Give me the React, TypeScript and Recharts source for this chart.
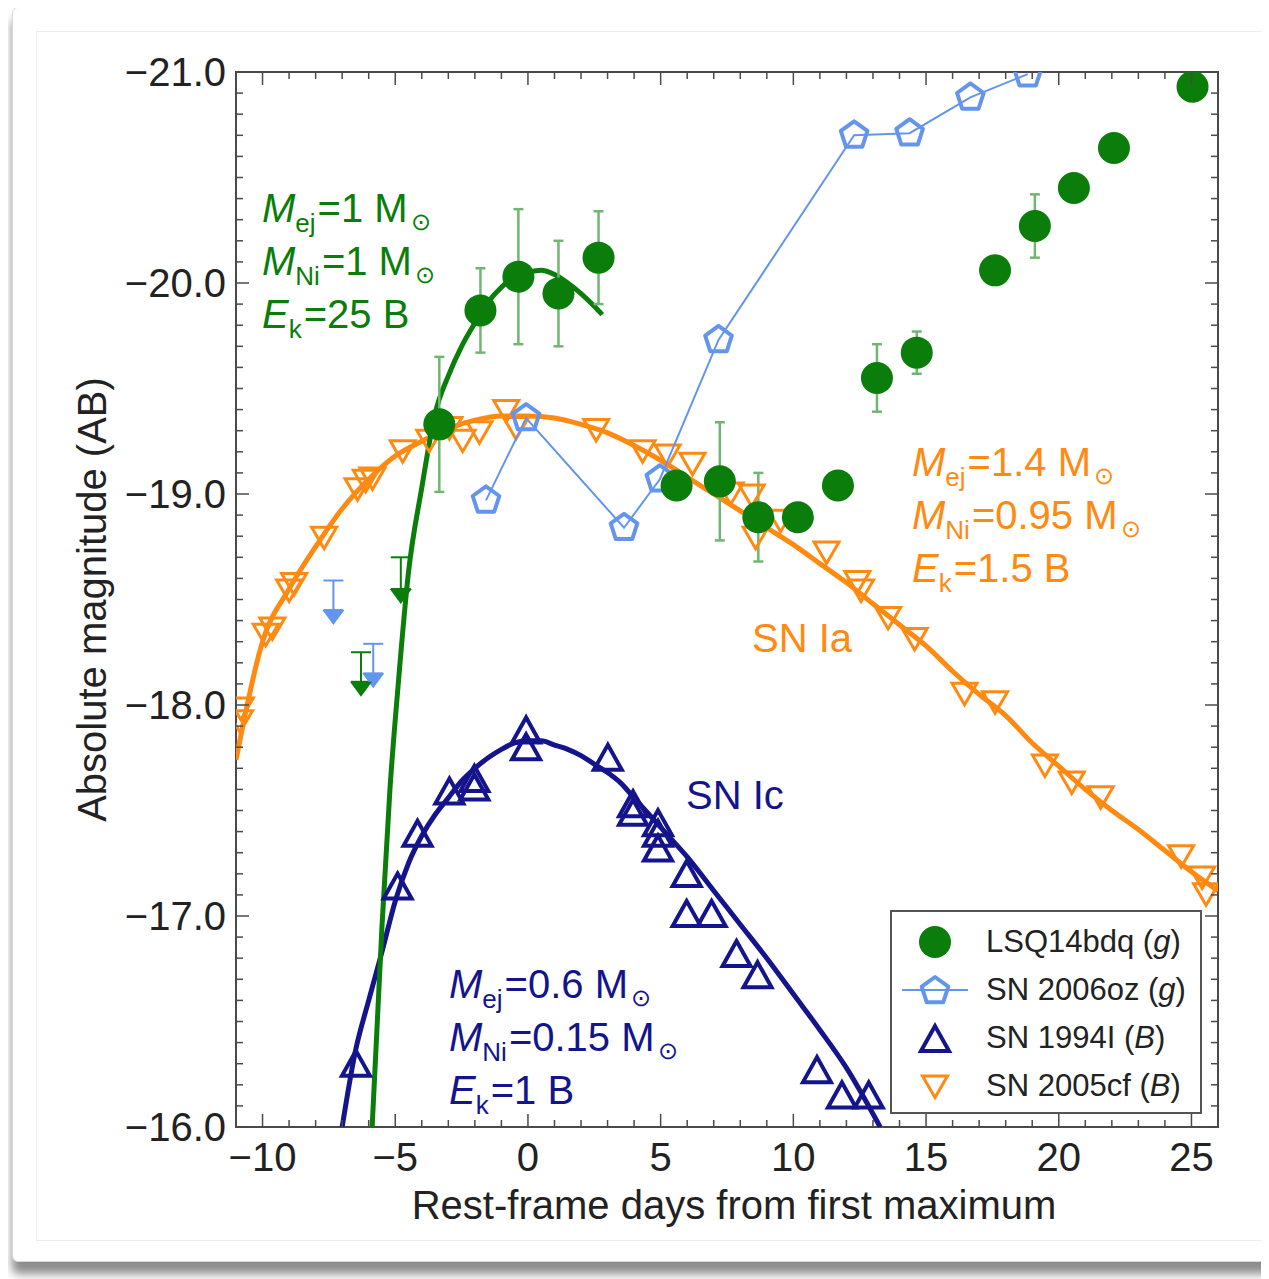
import React from 'react';
import { ComposedChart, Line, Scatter, XAxis, YAxis, ErrorBar, ReferenceArea } from 'recharts';

// LSQ14bdq (g): day, magnitude, 1-sigma error
const lsqDays = [-3.34, -1.79, -0.36, 1.15, 2.66, 5.6, 7.23, 8.68, 10.17, 11.68, 13.15, 14.65, 17.6, 19.1, 20.57, 22.08, 25.04];
const lsqMags = [-19.33, -19.87, -20.03, -19.95, -20.12, -19.04, -19.06, -18.89, -18.89, -19.04, -19.55, -19.67, -20.06, -20.27, -20.45, -20.64, -20.93];
const lsqErrs = [0.32, 0.2, 0.32, 0.25, 0.22, 0, 0.28, 0.21, 0, 0, 0.16, 0.1, 0, 0.15, 0, 0, 0];

// upper limits: day, magnitude, extent of the bar above it
const lsqLimDays = [-6.29, -4.79];
const lsqLimMags = [-18.11, -18.55];
const lsqLimBars = [0.14, 0.15];
const ozLimDays = [-7.33, -5.83];
const ozLimMags = [-18.45, -18.15];
const ozLimBars = [0.14, 0.14];

// SN 2006oz (g)
const ozDays = [-1.58, -0.07, 3.62, 4.97, 7.18, 12.29, 14.38, 16.67, 18.83];
const ozMags = [-18.97, -19.36, -18.84, -19.07, -19.73, -20.7, -20.71, -20.88, -20.99];

// SN 1994I (B)
const icDays = [-6.48, -4.91, -4.16, -2.96, -2.02, -2.02, -0.07, -0.07, 3.01, 3.96, 3.96, 4.9, 4.9, 4.9, 5.98, 5.98, 6.92, 7.86, 8.65, 10.89, 11.83, 12.84];
const icMags = [-16.29, -17.13, -17.38, -17.58, -17.64, -17.6, -17.87, -17.79, -17.74, -17.52, -17.48, -17.43, -17.38, -17.31, -17.19, -17.0, -17.0, -16.81, -16.71, -16.26, -16.14, -16.14];

// SN 2005cf (B)
const iaDays = [-10.82, -10.85, -9.88, -9.63, -9.0, -8.81, -7.68, -6.42, -6.11, -5.86, -4.72, -3.72, -2.96, -2.46, -1.83, -0.82, -0.45, 2.57, 4.32, 5.26, 6.2, 7.64, 8.43, 8.58, 9.52, 11.25, 12.41, 12.55, 13.57, 14.57, 16.45, 17.6, 19.48, 20.49, 21.58, 24.61, 25.4, 25.55];
const iaMags = [-17.99, -17.93, -18.34, -18.37, -18.55, -18.58, -18.8, -19.03, -19.07, -19.08, -19.21, -19.26, -19.32, -19.26, -19.3, -19.4, -19.32, -19.31, -19.21, -19.19, -19.15, -19.01, -19.0, -18.8, -18.88, -18.73, -18.59, -18.55, -18.42, -18.32, -18.06, -18.02, -17.72, -17.64, -17.57, -17.29, -17.19, -17.11];

// model light curves
const fitLsqDays = [-5.87, -5.5, -5.2, -4.9, -4.5, -4.0, -3.5, -3.0, -2.5, -2.0, -1.5, -1.0, -0.5, 0, 0.5, 1.0, 1.5, 2.0, 2.5, 2.8];
const fitLsqMags = [-16.0, -16.95, -17.6, -18.08, -18.63, -19.03, -19.38, -19.56, -19.7, -19.81, -19.91, -19.98, -20.03, -20.05, -20.06, -20.04, -20.0, -19.95, -19.89, -19.85];
const fitIcDays = [-7.0, -6.5, -6.0, -5.5, -5.0, -4.5, -4.0, -3.5, -3.0, -2.5, -2.0, -1.5, -1.0, -0.5, 0, 0.5, 1.0, 1.5, 2.0, 2.5, 3.0, 3.5, 4.0, 5.0, 6.0, 7.0, 8.0, 9.0, 10.0, 11.0, 12.0, 13.27];
const fitIcMags = [-16.0, -16.36, -16.6, -16.83, -17.07, -17.25, -17.38, -17.48, -17.56, -17.64, -17.7, -17.75, -17.79, -17.82, -17.83, -17.83, -17.81, -17.79, -17.76, -17.72, -17.68, -17.63, -17.56, -17.42, -17.28, -17.12, -16.96, -16.8, -16.63, -16.46, -16.28, -16.0];
const fitIaDays = [-11, -10, -9, -8, -7, -6, -5, -4, -3, -2, -1, 0, 1, 2, 3, 4, 5, 6, 7, 8, 9, 10, 11, 12, 13, 14, 15, 16, 17, 18, 19, 20, 21, 22, 23, 24, 25, 26];
const fitIaMags = [-17.74, -18.3, -18.55, -18.75, -18.93, -19.07, -19.18, -19.25, -19.31, -19.35, -19.37, -19.37, -19.36, -19.33, -19.29, -19.23, -19.16, -19.08, -19.0, -18.92, -18.84, -18.76, -18.67, -18.58, -18.48, -18.38, -18.28, -18.16, -18.05, -17.95, -17.82, -17.71, -17.6, -17.5, -17.41, -17.31, -17.21, -17.12];

const xTicks = Array.from({ length: 38 }, (_, i) => i - 11);
const yTicks = Array.from({ length: 51 }, (_, i) => Math.round((-21 + i * 0.1) * 10) / 10);

const GREEN = '#0a7d0a';
const GREEN_ERR = '#72b572';
const BLUE = '#6495ed';
const NAVY = '#14148c';
const ORANGE = '#ff8a12';
const FONT = '"Liberation Sans", Arial, Helvetica, sans-serif';

const zip = (xs: number[], ys: number[]) => xs.map((x, i) => ({ x, y: ys[i] }));
const lsqData = lsqDays.map((x, i) => ({ x, y: lsqMags[i], err: lsqErrs[i] }));
const lsqLimData = lsqLimDays.map((x, i) => ({ x, y: lsqLimMags[i], err: [lsqLimBars[i], 0] }));
const ozLimData = ozLimDays.map((x, i) => ({ x, y: ozLimMags[i], err: [ozLimBars[i], 0] }));

const PW = 982;
const PH = 1055;
const minus = (s: string) => s.replace('-', '\u2212');

const XTick = ({ x, y, payload }: any) => {
  const v = payload.value;
  const major = v % 5 === 0;
  const len = major ? 13 : 7;
  return (
    <g>
      <line x1={x} x2={x} y1={y} y2={y - len} stroke="#4a4a4a" strokeWidth={1.5} />
      <line x1={x} x2={x} y1={y - PH} y2={y - PH + len} stroke="#4a4a4a" strokeWidth={1.5} />
      {major && (
        <text x={x} y={y + 44} textAnchor="middle" fontSize={40} fontFamily={FONT} fill="#222">{minus(String(v))}</text>
      )}
    </g>
  );
};

const YTick = ({ x, y, payload }: any) => {
  const v = payload.value;
  const major = Math.abs(v - Math.round(v)) < 1e-6;
  const len = major ? 13 : 7;
  return (
    <g>
      <line x1={x} x2={x + len} y1={y} y2={y} stroke="#4a4a4a" strokeWidth={1.5} />
      <line x1={x + PW} x2={x + PW - len} y1={y} y2={y} stroke="#4a4a4a" strokeWidth={1.5} />
      {major && (
        <text x={x - 10} y={y + 14} textAnchor="end" fontSize={40} fontFamily={FONT} fill="#222">{minus(v.toFixed(1))}</text>
      )}
    </g>
  );
};

const Dot = ({ cx, cy }: any) => <circle cx={cx} cy={cy} r={16} fill={GREEN} />;

const pentPath = (cx: number, cy: number, r: number) =>
  Array.from({ length: 5 }, (_, i) => {
    const a = -Math.PI / 2 + (i * 2 * Math.PI) / 5;
    return `${cx + r * Math.cos(a)},${cy + r * Math.sin(a)}`;
  }).join(' ');

const Pentagon = ({ cx, cy }: any) => (
  <polygon points={pentPath(cx, cy, 14)} fill="none" stroke={BLUE} strokeWidth={4} strokeLinejoin="round" />
);

const TriUp = ({ cx, cy }: any) => (
  <polygon points={`${cx},${cy - 15} ${cx - 14},${cy + 10} ${cx + 14},${cy + 10}`} fill="none" stroke={NAVY} strokeWidth={4} />
);

const TriDown = ({ cx, cy }: any) => (
  <polygon points={`${cx - 12.5},${cy - 9} ${cx + 12.5},${cy - 9} ${cx},${cy + 12.5}`} fill="none" stroke={ORANGE} strokeWidth={3} />
);

const limitShape = (color: string) => ({ cx, cy }: any) => (
  <polygon points={`${cx - 11},${cy} ${cx + 11},${cy} ${cx},${cy + 15}`} fill={color} />
);

const Param = ({ x, y, color, sym, sub, val }: any) => (
  <text x={x} y={y} fill={color} fontSize={40} fontFamily={FONT}>
    <tspan fontStyle="italic">{sym}</tspan>
    <tspan fontSize={26} dy={10}>{sub}</tspan>
    <tspan dy={-10} dx={2}>{'=' + val}</tspan>
    {val.endsWith('M') && <tspan fontSize={24} dy={8} dx={3}>{'\u2299'}</tspan>}
  </text>
);

const modelBlock = (x: number, y: number, color: string, ej: string, ni: string, ek: string) => (
  <g>
    <Param x={x} y={y} color={color} sym="M" sub="ej" val={ej + ' M'} />
    <Param x={x} y={y + 53} color={color} sym="M" sub="Ni" val={ni + ' M'} />
    <Param x={x} y={y + 106} color={color} sym="E" sub="k" val={ek + ' B'} />
  </g>
);

const legendItems = [
  { label: 'LSQ14bdq', band: 'g', kind: 'dot' },
  { label: 'SN 2006oz', band: 'g', kind: 'pent' },
  { label: 'SN 1994I', band: 'B', kind: 'up' },
  { label: 'SN 2005cf', band: 'B', kind: 'down' },
];

const LegendMark = ({ kind }: { kind: string }) => (
  <svg width={70} height={40} style={{ display: 'block' }}>
    {kind === 'dot' && <Dot cx={35} cy={20} />}
    {kind === 'pent' && <line x1={2} x2={68} y1={20} y2={20} stroke={BLUE} strokeWidth={2} />}
    {kind === 'pent' && <Pentagon cx={35} cy={21} />}
    {kind === 'up' && <TriUp cx={35} cy={23} />}
    {kind === 'down' && <TriDown cx={35} cy={19} />}
  </svg>
);

export default function App() {
  return (
    <div style={{ position: 'relative', width: 1253, height: 1271 }}>
      <div style={{ position: 'absolute', left: 4, top: -1, width: 1263, height: 1253, background: '#fff', border: '1px solid #d8d8d8', borderRadius: 6, boxShadow: '0 12px 10px rgba(0,0,0,0.45)' }} />
      <div style={{ position: 'absolute', left: 28, top: 23, width: 1232, height: 1208, border: '1px solid #eee' }} />
      <div style={{ position: 'absolute', left: 0, top: 0 }}>
        <ComposedChart width={1253} height={1240} margin={{ top: 64, right: 43, bottom: 0, left: 0 }}>
          <XAxis
            type="number" dataKey="x" domain={[-11, 26]} allowDataOverflow ticks={xTicks} interval={0}
            height={121} axisLine={false} tickLine={false} tickSize={0} tickMargin={0} tick={<XTick />}
            label={(props: any) => {
              const vb = props.viewBox;
              return <text x={726} y={vb.y + 92} textAnchor="middle" fontSize={40} fontFamily={FONT} fill="#222">Rest-frame days from first maximum</text>;
            }}
          />
          <YAxis
            type="number" dataKey="y" domain={[-21, -16]} reversed allowDataOverflow ticks={yTicks} interval={0}
            width={228} axisLine={false} tickLine={false} tickSize={0} tickMargin={0} tick={<YTick />}
            label={(props: any) => {
              const vb = props.viewBox;
              const cy = vb.y + vb.height / 2;
              return <text x={98} y={cy} transform={`rotate(-90 98 ${cy})`} textAnchor="middle" fontSize={40} fontFamily={FONT} fill="#222">Absolute magnitude (AB)</text>;
            }}
          />
          <ReferenceArea x1={-11} x2={26} y1={-21} y2={-16} fill="none" stroke="#4a4a4a" strokeWidth={2} />
          <Line data={zip(fitIaDays, fitIaMags)} dataKey="y" type="monotone" stroke={ORANGE} strokeWidth={5} dot={false} isAnimationActive={false} />
          <Line data={zip(fitIcDays, fitIcMags)} dataKey="y" type="monotone" stroke={NAVY} strokeWidth={5} dot={false} isAnimationActive={false} />
          <Line data={zip(fitLsqDays, fitLsqMags)} dataKey="y" type="monotone" stroke={GREEN} strokeWidth={5} dot={false} isAnimationActive={false} />
          <Scatter data={zip(iaDays, iaMags)} shape={<TriDown />} isAnimationActive={false} />
          <Scatter data={zip(icDays, icMags)} shape={<TriUp />} isAnimationActive={false} />
          <Scatter data={zip(ozDays, ozMags)} shape={<Pentagon />} line={{ stroke: BLUE, strokeWidth: 2 }} lineType="joint" isAnimationActive={false} />
          <Scatter data={ozLimData} shape={limitShape(BLUE)} isAnimationActive={false}>
            <ErrorBar dataKey="err" direction="y" width={10} strokeWidth={2} stroke={BLUE} />
          </Scatter>
          <Scatter data={lsqLimData} shape={limitShape(GREEN)} isAnimationActive={false}>
            <ErrorBar dataKey="err" direction="y" width={10} strokeWidth={2} stroke={GREEN} />
          </Scatter>
          <Scatter data={lsqData} shape={<Dot />} isAnimationActive={false}>
            <ErrorBar dataKey="err" direction="y" width={5} strokeWidth={2.5} stroke={GREEN_ERR} />
          </Scatter>
        </ComposedChart>
      </div>
      <svg width={1253} height={1240} style={{ position: 'absolute', left: 0, top: 0, pointerEvents: 'none' }}>
        {modelBlock(254, 214, GREEN, '1', '1', '25')}
        {modelBlock(904, 468, ORANGE, '1.4', '0.95', '1.5')}
        {modelBlock(441, 990, NAVY, '0.6', '0.15', '1')}
        <text x={744} y={644} fill={ORANGE} fontSize={40} fontFamily={FONT}>SN Ia</text>
        <text x={678} y={801} fill={NAVY} fontSize={40} fontFamily={FONT}>SN Ic</text>
      </svg>
      <div style={{ position: 'absolute', left: 882, top: 902, width: 312, height: 204, border: '2px solid #555', background: '#fff', padding: '6px 0 0 0', boxSizing: 'border-box' }}>
        {legendItems.map((it) => (
          <div key={it.label} style={{ display: 'flex', alignItems: 'center', height: 48, fontFamily: FONT, fontSize: 31, color: '#222' }}>
            <div style={{ width: 8 }} />
            <LegendMark kind={it.kind} />
            <span style={{ marginLeft: 16, whiteSpace: 'nowrap' }}>{it.label} (<i>{it.band}</i>)</span>
          </div>
        ))}
      </div>
    </div>
  );
}
